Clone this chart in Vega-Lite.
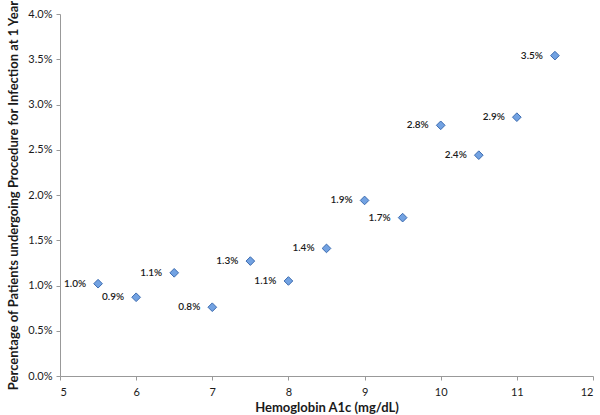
{
  "$schema": "https://vega.github.io/schema/vega-lite/v6.json",
  "width": 533,
  "height": 362,
  "autosize": {"type": "none"},
  "padding": {"left": 60, "top": 14, "right": 7, "bottom": 39},
  "background": "white",
  "config": {"view": {"stroke": null}, "font": "Lato"},
  "data": {"values": [
    {"a1c": 5.5, "pct": 1.02, "label": "1.0%"},
    {"a1c": 6.0, "pct": 0.87, "label": "0.9%"},
    {"a1c": 6.5, "pct": 1.14, "label": "1.1%"},
    {"a1c": 7.0, "pct": 0.76, "label": "0.8%"},
    {"a1c": 7.5, "pct": 1.27, "label": "1.3%"},
    {"a1c": 8.0, "pct": 1.05, "label": "1.1%"},
    {"a1c": 8.5, "pct": 1.41, "label": "1.4%"},
    {"a1c": 9.0, "pct": 1.94, "label": "1.9%"},
    {"a1c": 9.5, "pct": 1.75, "label": "1.7%"},
    {"a1c": 10.0, "pct": 2.77, "label": "2.8%"},
    {"a1c": 10.5, "pct": 2.44, "label": "2.4%"},
    {"a1c": 11.0, "pct": 2.86, "label": "2.9%"},
    {"a1c": 11.5, "pct": 3.54, "label": "3.5%"}
  ]},
  "encoding": {
    "x": {"field": "a1c", "type": "quantitative",
      "scale": {"domain": [5, 12], "nice": false, "zero": false},
      "axis": {"title": "Hemoglobin A1c (mg/dL)", "values": [5,6,7,8,9,10,11,12], "grid": false,
        "domainColor": "#999999", "tickColor": "#999999", "tickSize": 4, "labelFontSize": 11, "labelColor": "#1a1a1a",
        "labelPadding": 6, "titleFontSize": 13, "titleFontWeight": "bold", "titleColor": "#1a1a1a", "titlePadding": 4}},
    "y": {"field": "pct", "type": "quantitative",
      "scale": {"domain": [0, 4], "nice": false},
      "axis": {"title": "Percentage of Patients undergoing Procedure  for Infection at 1 Year",
        "values": [0, 0.5, 1, 1.5, 2, 2.5, 3, 3.5, 4], "labelExpr": "format(datum.value, '.1f') + '%'", "grid": false,
        "domainColor": "#999999", "tickColor": "#999999", "tickSize": 4, "labelFontSize": 11, "labelColor": "#1a1a1a",
        "labelPadding": 4, "titleFontSize": 13, "titleFontWeight": "bold", "titleColor": "#1a1a1a", "titlePadding": 7}}
  },
  "layer": [
    {"mark": {"type": "point", "shape": "diamond", "filled": true, "size": 75, "fill": "#72a2e2", "stroke": "#3d6cb0", "strokeWidth": 1, "opacity": 1}},
    {"mark": {"type": "text", "align": "right", "baseline": "middle", "dx": -12, "fontSize": 10, "fontWeight": 600, "fill": "#1a1a1a"},
     "encoding": {"text": {"field": "label"}}}
  ]
}
